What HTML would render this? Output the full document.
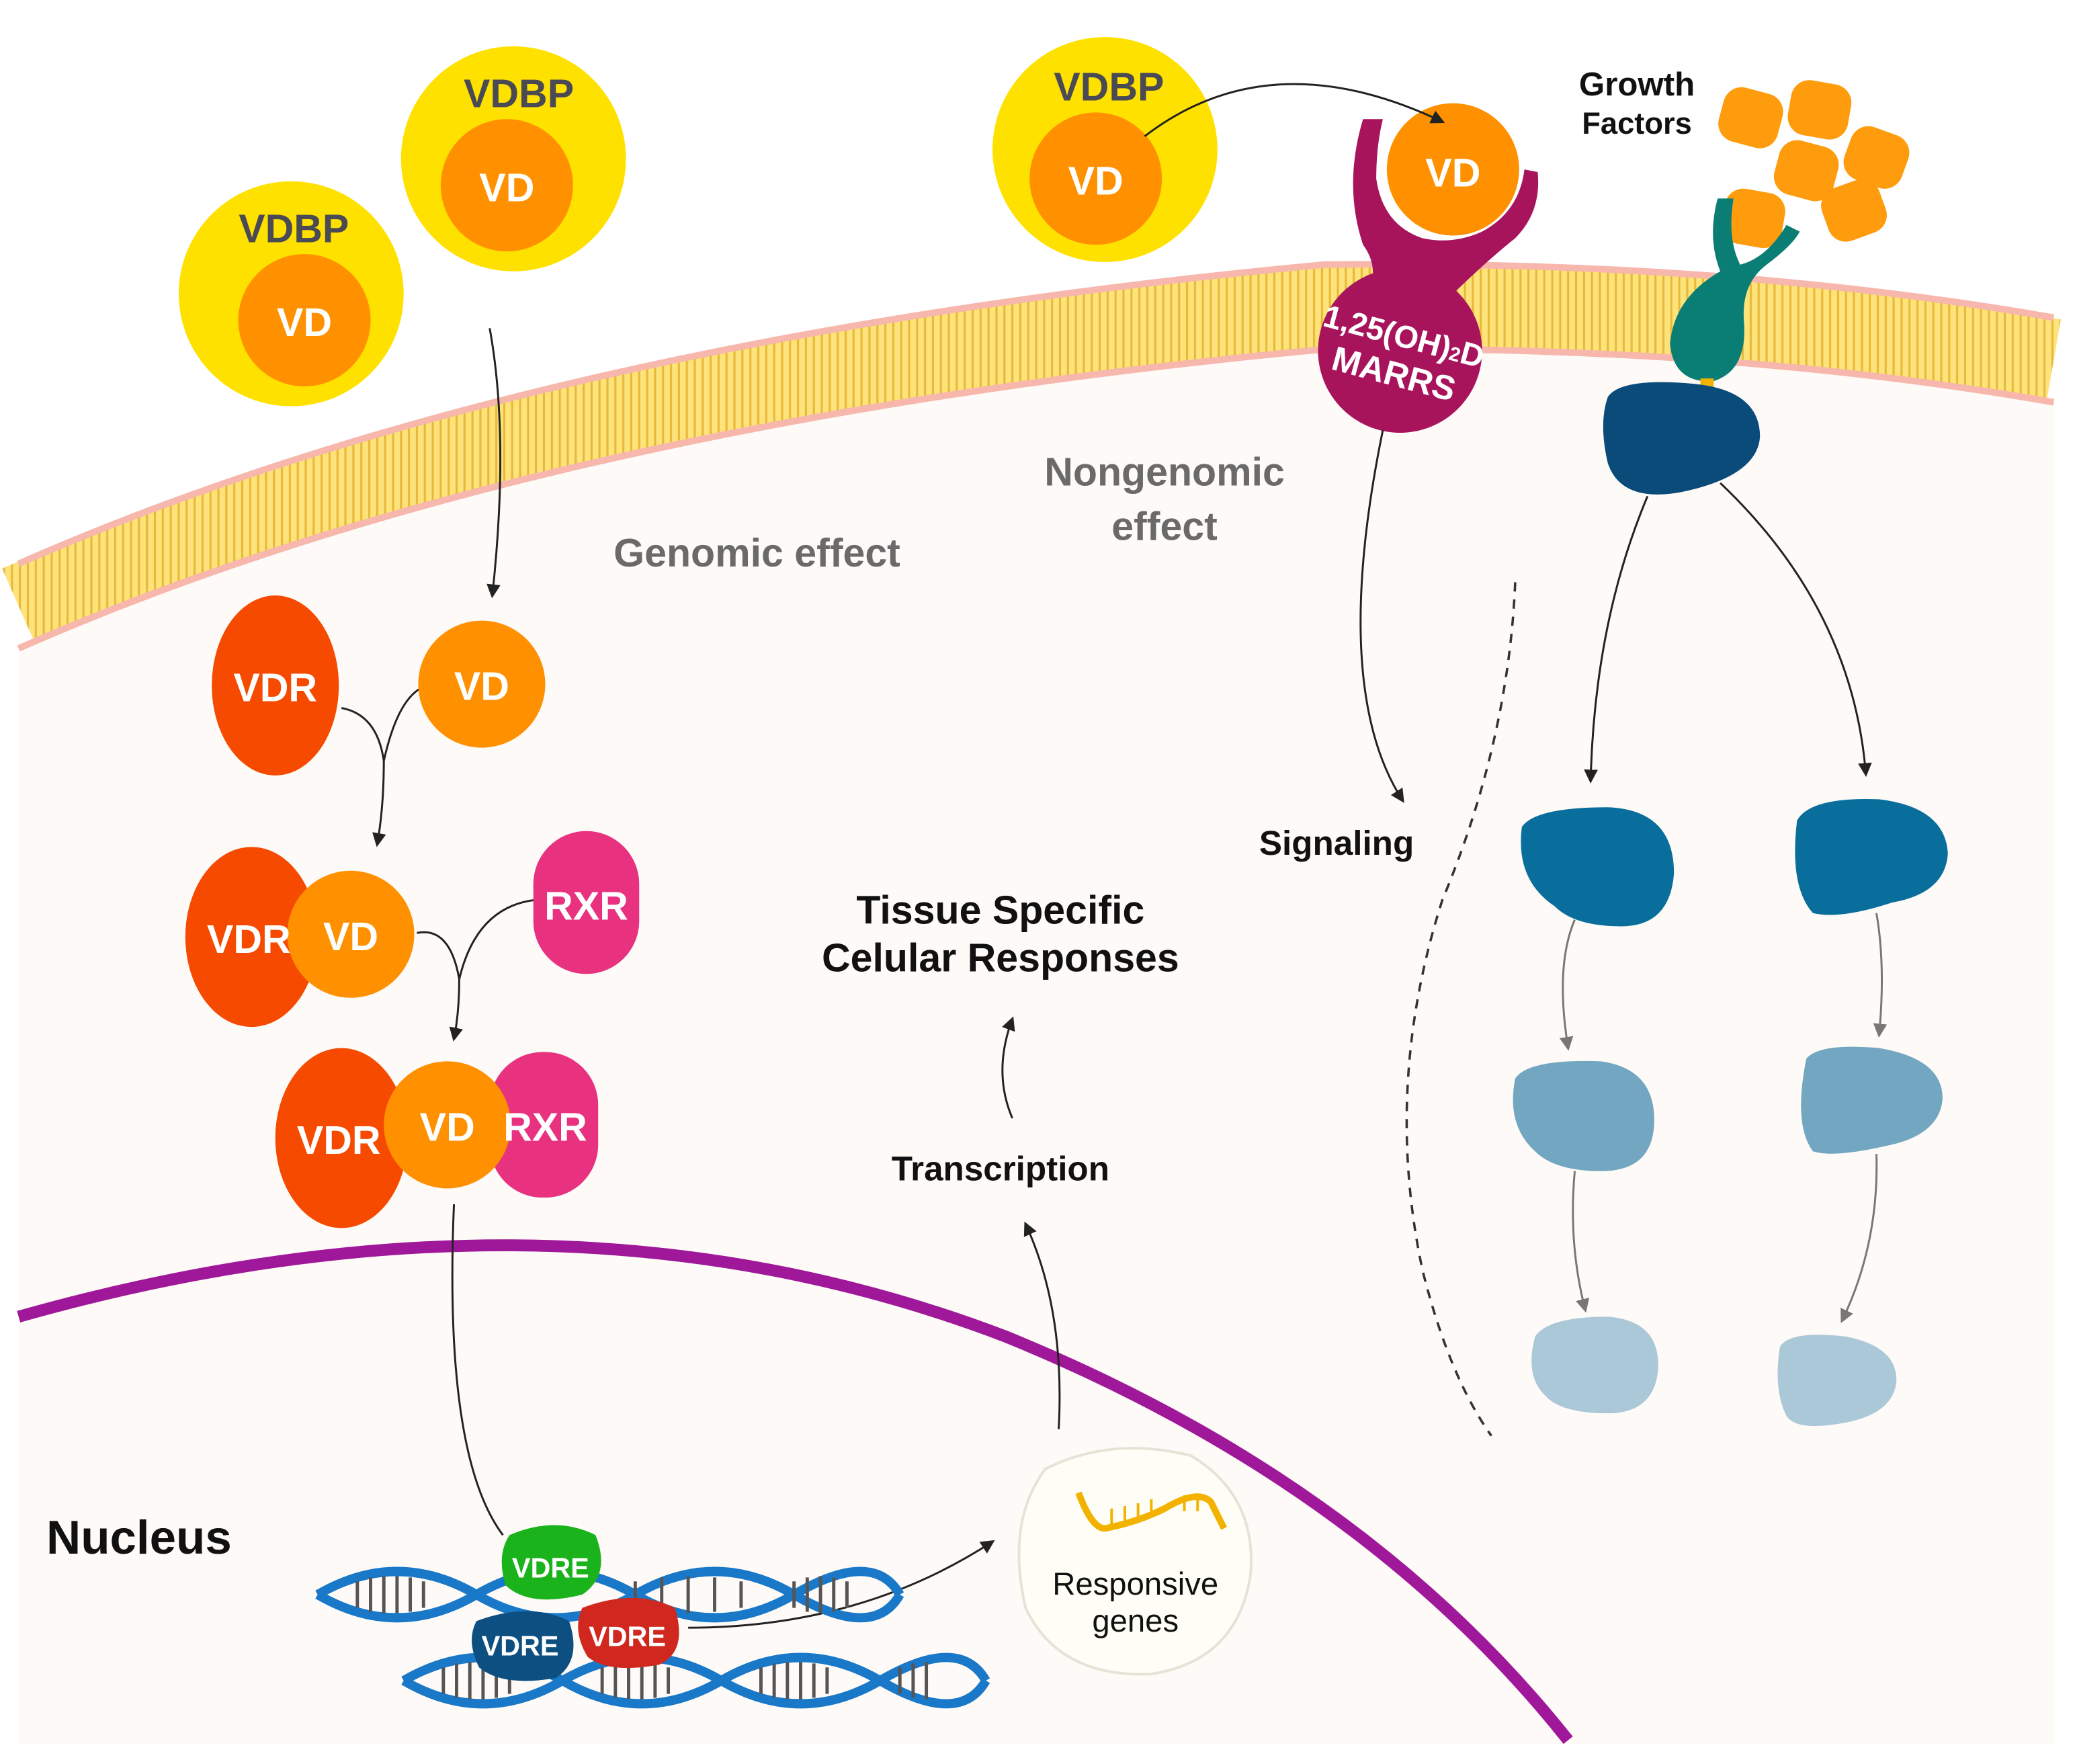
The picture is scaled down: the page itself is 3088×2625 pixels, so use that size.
<!DOCTYPE html>
<html><head><meta charset="utf-8"><style>
html,body{margin:0;padding:0;background:#fff;}
svg{display:block;}
text{font-family:"Liberation Sans",sans-serif;font-weight:bold;}
</style></head><body>
<svg width="3088" height="2625" viewBox="0 0 1568 1333" xmlns="http://www.w3.org/2000/svg">
<defs>
<pattern id="lip" width="6" height="80" patternUnits="userSpaceOnUse">
<rect width="6" height="80" fill="#fde37a"/>
<line x1="3" y1="0" x2="3" y2="80" stroke="#e8b93a" stroke-width="1.6"/>
</pattern>
<marker id="ar" viewBox="0 0 10 10" refX="8" refY="5" markerWidth="7" markerHeight="7" orient="auto"><path d="M0,0 L10,5 L0,10 z" fill="#222"/></marker>
<marker id="arg" viewBox="0 0 10 10" refX="8" refY="5" markerWidth="7" markerHeight="7" orient="auto"><path d="M0,0 L10,5 L0,10 z" fill="#777"/></marker>
</defs>
<rect width="1568" height="1333" fill="#fff"/>
<path d="M14,490 Q400,320 1000,262 Q1300,258 1552,302 L1552,1318 L14,1318 Z" fill="#fdfaf7"/>
<path d="M14,458 Q400,288 1000,232 Q1300,228 1552,272" fill="none" stroke="url(#lip)" stroke-width="62"/>
<path d="M14,426 Q400,256 1000,200 Q1300,196 1552,240" fill="none" stroke="#f7b7ad" stroke-width="5"/>
<path d="M14,490 Q400,320 1000,264 Q1300,260 1552,304" fill="none" stroke="#f7b7ad" stroke-width="5"/>
<path d="M14,995 Q420,880 760,1010 Q1030,1120 1185,1315" fill="none" stroke="#a0189a" stroke-width="9"/>
<g>
<circle cx="220" cy="222" r="85" fill="#ffe100"/><circle cx="230" cy="242" r="50" fill="#ff9000"/>
<text x="222" y="183" font-size="30" fill="#4a4a55" text-anchor="middle">VDBP</text>
<text x="230" y="254" font-size="30" fill="#fff" text-anchor="middle">VD</text>
<circle cx="388" cy="120" r="85" fill="#ffe100"/><circle cx="383" cy="140" r="50" fill="#ff9000"/>
<text x="392" y="81" font-size="30" fill="#4a4a55" text-anchor="middle">VDBP</text>
<text x="383" y="152" font-size="30" fill="#fff" text-anchor="middle">VD</text>
<circle cx="835" cy="113" r="85" fill="#ffe100"/><circle cx="828" cy="135" r="50" fill="#ff9000"/>
<text x="838" y="76" font-size="30" fill="#4a4a55" text-anchor="middle">VDBP</text>
<text x="828" y="147" font-size="30" fill="#fff" text-anchor="middle">VD</text>
</g>
<path d="M1030,90 Q1015,140 1030,185 Q1045,205 1030,230 L1090,230 Q1120,200 1145,180 Q1165,160 1162,130 L1152,128 Q1148,160 1120,175 Q1098,185 1075,180 Q1045,170 1040,135 Q1040,110 1045,90 Z" fill="#a8145c"/>
<circle cx="1058" cy="265" r="62" fill="#a8145c"/>
<circle cx="1098" cy="128" r="50" fill="#ff9000"/>
<text x="1098" y="141" font-size="30" fill="#fff" text-anchor="middle">VD</text>
<path d="M865,103 Q960,30 1090,92" fill="none" stroke="#222" stroke-width="1.5" marker-end="url(#ar)"/>
<g transform="rotate(15 1058 265)" fill="#fff" text-anchor="middle">
<text x="1058" y="262" font-size="24">1,25(OH)<tspan font-size="15">2</tspan>D</text>
<text x="1058" y="292" font-size="26">MARRS</text></g>
<text x="1237" y="72" font-size="25" fill="#111" text-anchor="middle">Growth</text>
<text x="1237" y="101" font-size="23" fill="#111" text-anchor="middle">Factors</text>
<g fill="#ff9c0e">
<rect x="1300" y="68" width="46" height="42" rx="14" transform="rotate(15 1323 89)"/>
<rect x="1352" y="62" width="46" height="42" rx="14" transform="rotate(10 1375 83)"/>
<rect x="1395" y="98" width="46" height="42" rx="14" transform="rotate(20 1418 119)"/>
<rect x="1342" y="108" width="46" height="42" rx="14" transform="rotate(15 1365 129)"/>
<rect x="1378" y="138" width="46" height="42" rx="14" transform="rotate(-20 1401 159)"/>
<rect x="1302" y="144" width="46" height="42" rx="14" transform="rotate(10 1325 165)"/>
</g>
<path d="M1298,150 Q1290,180 1300,205 Q1265,225 1262,260 Q1265,290 1295,288 Q1320,280 1318,245 Q1315,215 1335,200 Q1355,185 1360,175 L1350,170 Q1335,195 1315,200 Q1305,180 1310,150 Z" fill="#0a7d74"/>
<rect x="1285" y="286" width="10" height="8" fill="#f3b200"/>
<path d="M1215,300 Q1225,285 1280,290 Q1330,295 1330,330 Q1328,360 1270,372 Q1225,380 1215,350 Q1208,320 1215,300 Z" fill="#0b4b7a"/>
<g fill="#0a6e9c">
<path d="M1150,625 Q1160,610 1215,610 Q1265,612 1265,660 Q1262,700 1225,700 Q1190,700 1175,685 Q1145,665 1150,625 Z"/>
<path d="M1358,620 Q1368,602 1420,604 Q1470,610 1472,645 Q1470,675 1430,682 Q1390,695 1370,690 Q1352,670 1358,620 Z"/>
</g>
<g fill="#73a7c1">
<path d="M1145,815 Q1155,800 1210,802 Q1252,808 1250,850 Q1248,885 1210,885 Q1175,885 1160,870 Q1138,850 1145,815 Z"/>
<path d="M1365,800 Q1375,788 1420,792 Q1468,800 1468,830 Q1466,858 1425,866 Q1385,875 1370,870 Q1355,850 1365,800 Z"/>
</g>
<g fill="#abc8d8">
<path d="M1160,1010 Q1170,995 1215,995 Q1255,998 1253,1035 Q1250,1068 1215,1068 Q1180,1068 1168,1055 Q1152,1040 1160,1010 Z"/>
<path d="M1345,1018 Q1352,1005 1395,1010 Q1435,1018 1433,1045 Q1430,1068 1395,1075 Q1358,1082 1350,1070 Q1340,1050 1345,1018 Z"/>
</g>
<g fill="none" stroke="#222" stroke-width="1.5">
<path d="M1245,375 Q1205,470 1202,590" marker-end="url(#ar)"/>
<path d="M1300,365 Q1400,460 1410,585" marker-end="url(#ar)"/>
<path d="M1045,325 Q1005,520 1060,605" marker-end="url(#ar)"/>
<path d="M370,248 Q385,330 372,450" marker-end="url(#ar)"/>
<path d="M258,535 Q285,540 290,575 Q300,530 318,520 M290,575 Q290,610 285,638" marker-end="url(#ar)"/>
<path d="M315,705 Q340,700 347,740 Q360,685 405,680 M347,740 Q347,765 343,785" marker-end="url(#ar)"/>
<path d="M343,910 Q335,1100 380,1160"/>
<path d="M520,1230 Q650,1230 750,1165" marker-end="url(#ar)"/>
<path d="M800,1080 Q805,990 775,925" marker-end="url(#ar)"/>
<path d="M765,845 Q750,810 765,770" marker-end="url(#ar)"/>
</g>
<g fill="none" stroke="#777" stroke-width="1.5">
<path d="M1190,695 Q1175,730 1185,792" marker-end="url(#arg)"/>
<path d="M1418,690 Q1425,730 1420,782" marker-end="url(#arg)"/>
<path d="M1190,885 Q1185,940 1198,990" marker-end="url(#arg)"/>
<path d="M1418,872 Q1420,940 1392,998" marker-end="url(#arg)"/>
</g>
<path d="M1145,440 Q1140,560 1090,680 Q1045,820 1075,960 Q1095,1040 1127,1085" fill="none" stroke="#333" stroke-width="1.8" stroke-dasharray="7,6"/>
<ellipse cx="208" cy="518" rx="48" ry="68" fill="#f54a00"/>
<circle cx="364" cy="517" r="48" fill="#ff9000"/>
<text x="208" y="530" font-size="30" fill="#fff" text-anchor="middle">VDR</text>
<text x="364" y="529" font-size="30" fill="#fff" text-anchor="middle">VD</text>
<ellipse cx="190" cy="708" rx="50" ry="68" fill="#f54a00"/>
<circle cx="265" cy="706" r="48" fill="#ff9000"/>
<text x="188" y="720" font-size="30" fill="#fff" text-anchor="middle">VDR</text>
<text x="265" y="718" font-size="30" fill="#fff" text-anchor="middle">VD</text>
<rect x="403" y="628" width="80" height="108" rx="40" fill="#e8317f"/>
<text x="443" y="695" font-size="30" fill="#fff" text-anchor="middle">RXR</text>
<ellipse cx="258" cy="860" rx="50" ry="68" fill="#f54a00"/>
<rect x="370" y="795" width="82" height="110" rx="40" fill="#e8317f"/>
<circle cx="338" cy="850" r="48" fill="#ff9000"/>
<text x="256" y="872" font-size="30" fill="#fff" text-anchor="middle">VDR</text>
<text x="338" y="862" font-size="30" fill="#fff" text-anchor="middle">VD</text>
<text x="412" y="862" font-size="30" fill="#fff" text-anchor="middle">RXR</text>
<g stroke="#1a78c8" stroke-width="7" fill="none">
<path d="M240,1205 Q300,1170 360,1205 T480,1205 T600,1205 T680,1205"/>
<path d="M240,1205 Q300,1240 360,1205 T480,1205 T600,1205 T680,1205"/>
<path d="M305,1270 Q365,1235 425,1270 T545,1270 T665,1270 T745,1270"/>
<path d="M305,1270 Q365,1305 425,1270 T545,1270 T665,1270 T745,1270"/>
</g>
<g stroke="#555" stroke-width="2.5">
<path d="M270,1195 v20 M280,1192 v26 M290,1191 v28 M300,1191 v28 M310,1192 v26 M320,1195 v20 M480,1195 v20 M500,1192 v26 M520,1191 v28 M540,1192 v26 M560,1195 v20 M600,1195 v20 M610,1192 v26 M620,1191 v28 M630,1192 v26 M640,1195 v20"/>
<path d="M335,1260 v20 M345,1257 v26 M355,1256 v28 M365,1256 v28 M375,1257 v26 M385,1260 v20 M455,1260 v20 M465,1257 v26 M475,1256 v28 M485,1256 v28 M495,1257 v26 M505,1260 v20 M575,1260 v20 M585,1257 v26 M595,1256 v28 M605,1256 v28 M615,1257 v26 M625,1260 v20 M680,1260 v20 M690,1257 v26 M700,1256 v28"/>
</g>
<path d="M385,1160 Q420,1145 450,1160 Q462,1190 440,1205 Q400,1215 382,1198 Q375,1175 385,1160 Z" fill="#1bb31b"/>
<text x="416" y="1192" font-size="21" fill="#fff" text-anchor="middle">VDRE</text>
<path d="M360,1225 Q400,1210 430,1225 Q440,1255 420,1268 Q380,1275 362,1260 Q352,1240 360,1225 Z" fill="#0d4f80"/>
<text x="393" y="1251" font-size="21" fill="#fff" text-anchor="middle">VDRE</text>
<path d="M440,1215 Q480,1200 510,1215 Q520,1248 498,1258 Q460,1265 444,1252 Q432,1232 440,1215 Z" fill="#d0281e"/>
<text x="474" y="1244" font-size="21" fill="#fff" text-anchor="middle">VDRE</text>
<path d="M790,1110 Q840,1085 900,1100 Q950,1130 945,1190 Q935,1255 870,1265 Q800,1268 775,1215 Q760,1150 790,1110 Z" fill="#fffef6" stroke="#e6e3d6" stroke-width="2"/>
<path d="M815,1128 Q825,1155 835,1155 Q860,1150 880,1140 Q905,1125 915,1135 Q920,1145 925,1155" fill="none" stroke="#f3b200" stroke-width="5"/>
<g stroke="#f3b200" stroke-width="2"><path d="M840,1140 v14 M850,1138 v14 M860,1136 v12 M870,1133 v10 M895,1130 v12 M905,1130 v12"/></g>
<text x="858" y="1205" font-size="24" fill="#111" text-anchor="middle" style="font-weight:normal">Responsive</text>
<text x="858" y="1233" font-size="24" fill="#111" text-anchor="middle" style="font-weight:normal">genes</text>
<text x="572" y="428" font-size="30" fill="#6a6a6a" text-anchor="middle">Genomic effect</text>
<text x="880" y="367" font-size="30" fill="#6a6a6a" text-anchor="middle">Nongenomic</text>
<text x="880" y="408" font-size="30" fill="#6a6a6a" text-anchor="middle">effect</text>
<text x="1010" y="646" font-size="26" fill="#111" text-anchor="middle">Signaling</text>
<text x="756" y="698" font-size="30" fill="#111" text-anchor="middle">Tissue Specific</text>
<text x="756" y="734" font-size="30" fill="#111" text-anchor="middle">Celular Responses</text>
<text x="756" y="892" font-size="26" fill="#111" text-anchor="middle">Transcription</text>
<text x="105" y="1174" font-size="36" fill="#111" text-anchor="middle">Nucleus</text>
</svg>
</body></html>
